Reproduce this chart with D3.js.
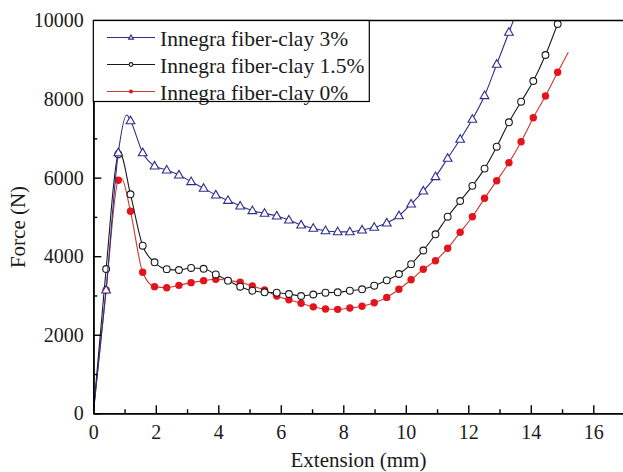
<!DOCTYPE html>
<html>
<head>
<meta charset="utf-8">
<script src="https://cdn.jsdelivr.net/npm/d3@7/dist/d3.min.js"></script>
<style>
  html, body { margin: 0; padding: 0; background: #fff; }
  svg { display: block; font-family: "Liberation Serif", "Times New Roman", serif; }
</style>
</head>
<body>
<svg id="chart" width="623" height="472"></svg>
<script>
// Extension (mm) at which each series has a marker
const extension = [0.41, 0.80, 1.19, 1.58, 1.96, 2.35, 2.74, 3.13, 3.53, 3.92,
  4.31, 4.70, 5.09, 5.48, 5.87, 6.26, 6.65, 7.04, 7.43, 7.82,
  8.21, 8.60, 8.99, 9.39, 9.78, 10.17, 10.56, 10.95, 11.34, 11.74,
  12.13, 12.52, 12.91, 13.30, 13.69, 14.08, 14.47, 14.86];

// Force (N) for each series at those extensions
const force3 = [3140, 6634, 7449, 6634, 6296, 6194, 6067, 5897, 5728, 5558,
  5420, 5277, 5160, 5092, 5023, 4921, 4794, 4710, 4649, 4620,
  4620, 4667, 4735, 4845, 5030, 5328, 5659, 6024, 6492, 6975,
  7485, 8086, 8885, 9700];
const force15 = [3673, 6594, 5575, 4267, 3844, 3670, 3648, 3700, 3680, 3535,
  3377, 3223, 3121, 3080, 3070, 3037, 2986, 3025, 3070, 3080,
  3121, 3157, 3249, 3385, 3546, 3797, 4145, 4557, 5005, 5405,
  5790, 6230, 6787, 7408, 7933, 8460, 9122, 9911];
const force0 = [3140, 5932, 5143, 3590, 3224, 3198, 3258, 3326, 3377, 3411,
  3385, 3335, 3241, 3139, 2986, 2892, 2800, 2710, 2655, 2647,
  2681, 2724, 2816, 2950, 3157, 3400, 3666, 3885, 4200, 4608,
  5005, 5473, 5922, 6380, 6914, 7525, 8078, 8681];

// Unmarked curve points: origin, peak and end of each record
const extra3 = [[0, 0], [1.07, 7594], [13.50, 10120]];
const extra15 = [[0, 0], [0.85, 6625], [15.00, 10180]];
const extra0 = [[0, 0], [0.90, 5985], [15.20, 9190]];

const seriesNames = ["Innegra fiber-clay 3%", "Innegra fiber-clay 1.5%", "Innegra fiber-clay 0%"];
const xTicks = [0, 2, 4, 6, 8, 10, 12, 14, 16];
const xMinorTicks = [1, 3, 5, 7, 9, 11, 13, 15, 17];
const yTicks = [0, 2000, 4000, 6000, 8000, 10000];
const yMinorTicks = [1000, 3000, 5000, 7000, 9000];

const svg = d3.select("#chart");
const plotLeft = 93.3, plotTop = 20.5, plotBottom = 413.3;
const x = d3.scaleLinear().domain([0, 18]).range([plotLeft, plotLeft + 18 * 31.25]);
const y = d3.scaleLinear().domain([0, 10000]).range([plotBottom, plotTop]);

svg.append("defs").append("clipPath").attr("id", "plotClip")
  .append("rect").attr("x", plotLeft).attr("y", plotTop)
  .attr("width", x(18) - plotLeft).attr("height", plotBottom - plotTop);

const styles = [
  { line: "#2e2e8c", stroke: "#2e2e8c", fill: "#fff", shape: "tri" },
  { line: "#1a1a1a", stroke: "#1a1a1a", fill: "#fff", shape: "circ" },
  { line: "#c8392e", stroke: "#e3141b", fill: "#e3141b", shape: "dot" }
];
const forces = [force3, force15, force0];
const extras = [extra3, extra15, extra0];

function drawMarker(g, shape, s, cx, cy, k) {
  if (shape === "tri") {
    const r = 4.6 * k;
    g.append("path")
      .attr("d", `M${cx},${cy - r}L${cx + r * 0.95},${cy + r * 0.65}L${cx - r * 0.95},${cy + r * 0.65}Z`)
      .attr("fill", s.fill).attr("stroke", s.stroke).attr("stroke-width", 1.1);
  } else if (shape === "circ") {
    g.append("circle").attr("cx", cx).attr("cy", cy).attr("r", 3.4 * k)
      .attr("fill", s.fill).attr("stroke", s.stroke).attr("stroke-width", 1.1);
  } else {
    g.append("circle").attr("cx", cx).attr("cy", cy).attr("r", 3.7 * k)
      .attr("fill", s.fill).attr("stroke", "none");
  }
}

const plot = svg.append("g").attr("clip-path", "url(#plotClip)");
const line = d3.line().x(d => x(d[0])).y(d => y(d[1])).curve(d3.curveMonotoneX);

// red first, then black, blue on top
[2, 1, 0].forEach(i => {
  const s = styles[i];
  const marked = forces[i].map((f, k) => [extension[k], f]);
  const pts = marked.concat(extras[i]).sort((a, b) => a[0] - b[0]);
  plot.append("path").datum(pts).attr("d", line)
    .attr("fill", "none").attr("stroke", s.line).attr("stroke-width", 1.1);
  const mg = plot.append("g");
  marked.forEach(d => drawMarker(mg, s.shape, s, x(d[0]), y(d[1]), 1));
});

// axes with inward ticks
const axisStyle = g => {
  g.selectAll("path.domain").attr("stroke", "#000").attr("stroke-width", 1.6);
  g.selectAll(".tick line").attr("stroke", "#000").attr("stroke-width", 1.4);
  g.selectAll("text").attr("font-size", 20).attr("fill", "#1a1a1a")
    .attr("font-family", "Liberation Serif, Times New Roman, serif");
};
svg.append("g").attr("transform", `translate(0,${plotBottom})`)
  .call(d3.axisBottom(x).tickValues(xTicks).tickSize(-8).tickSizeOuter(0).tickPadding(11.5).tickFormat(d3.format("d")))
  .call(axisStyle);
svg.append("g").attr("transform", `translate(0,${plotBottom})`)
  .call(d3.axisBottom(x).tickValues(xMinorTicks).tickSize(-4).tickSizeOuter(0).tickFormat(""))
  .call(axisStyle);
svg.append("g").attr("transform", `translate(${plotLeft},0)`)
  .call(d3.axisLeft(y).tickValues(yTicks).tickSize(-8).tickSizeOuter(0).tickPadding(9.5).tickFormat(d3.format("d")))
  .call(axisStyle);
svg.append("g").attr("transform", `translate(${plotLeft},0)`)
  .call(d3.axisLeft(y).tickValues(yMinorTicks).tickSize(-4).tickSizeOuter(0).tickFormat(""))
  .call(axisStyle);

// top frame line
svg.append("line").attr("x1", plotLeft).attr("x2", x(18)).attr("y1", plotTop).attr("y2", plotTop)
  .attr("stroke", "#000").attr("stroke-width", 1.6);

// legend
const lg = svg.append("g");
lg.append("rect").attr("x", plotLeft).attr("y", plotTop).attr("width", 276).attr("height", 81)
  .attr("fill", "#fff").attr("stroke", "#000").attr("stroke-width", 1.2);
seriesNames.forEach((name, i) => {
  const cy = 37.5 + i * 27;
  const s = styles[i];
  lg.append("line").attr("x1", 107).attr("x2", 155).attr("y1", cy).attr("y2", cy)
    .attr("stroke", s.line).attr("stroke-width", 1.1);
  drawMarker(lg, s.shape, s, 131, cy, 0.55);
  lg.append("text").attr("x", 160).attr("y", cy + 8).attr("font-size", 21.5)
    .attr("fill", "#1a1a1a").text(name);
});

// axis titles
svg.append("text").attr("x", 358.5).attr("y", 467).attr("text-anchor", "middle")
  .attr("font-size", 21).attr("fill", "#1a1a1a").text("Extension (mm)");
svg.append("text").attr("transform", "translate(25,227) rotate(-90)")
  .attr("text-anchor", "middle").attr("font-size", 21).attr("fill", "#1a1a1a").text("Force (N)");
</script>
</body>
</html>
